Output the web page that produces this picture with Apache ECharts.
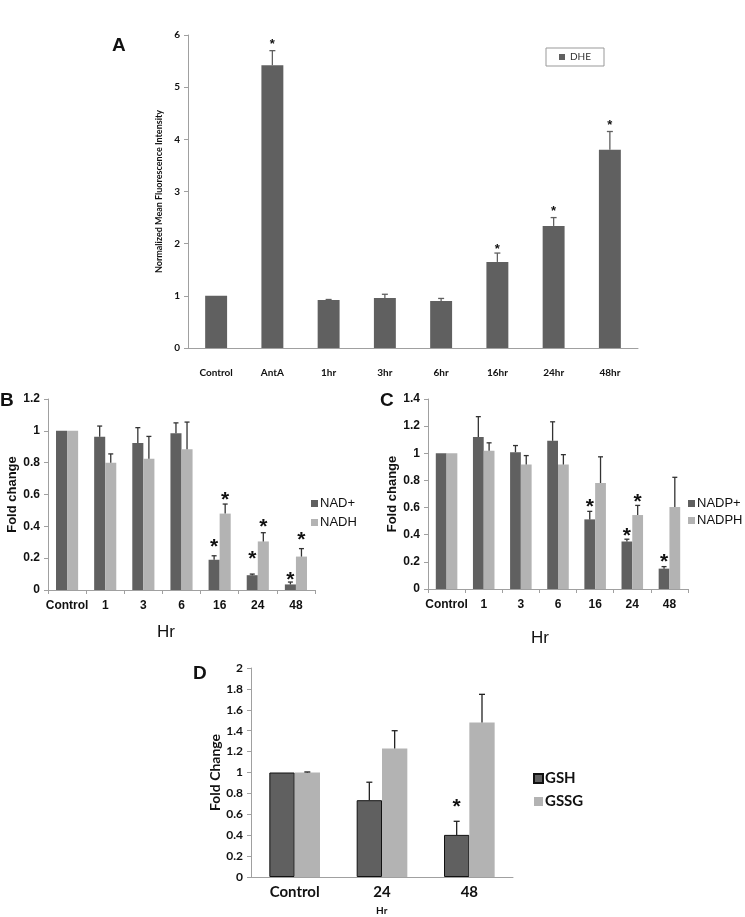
<!DOCTYPE html>
<html>
<head>
<meta charset="utf-8">
<script src="https://cdn.jsdelivr.net/npm/echarts@6/dist/echarts.min.js"></script>
<style>
  html, body { margin: 0; padding: 0; background: #fff; }
  #chart { width: 745px; height: 917px; }
</style>
</head>
<body>
<div id="chart"></div>
<script>
// panel A - DHE
const catsA = ["Control", "AntA", "1hr", "3hr", "6hr", "16hr", "24hr", "48hr"];
const dhe = [1.0, 5.42, 0.92, 0.96, 0.9, 1.65, 2.34, 3.8];
const dheErr = [null, 5.7, 0.93, 1.03, 0.95, 1.82, 2.5, 4.15];
const dheStar = [null, 5.88, null, null, null, 1.95, 2.69, 4.34];

// panel B - NAD+ / NADH
const catsB = ["Control", "1", "3", "6", "16", "24", "48"];
const nad = [1.0, 0.963, 0.923, 0.985, 0.19, 0.093, 0.035];
const nadErr = [null, 1.03, 1.02, 1.05, 0.215, 0.1, 0.05];
const nadStar = [null, null, null, null, 0.306, 0.232, 0.1];
const nadh = [1.0, 0.80, 0.825, 0.885, 0.48, 0.305, 0.21];
const nadhErr = [null, 0.855, 0.965, 1.055, 0.54, 0.36, 0.26];
const nadhStar = [null, null, null, null, 0.6, 0.43, 0.35];

// panel C - NADP+ / NADPH
const catsC = ["Control", "1", "3", "6", "16", "24", "48"];
const nadp = [1.0, 1.12, 1.008, 1.092, 0.513, 0.35, 0.15];
const nadpErr = [null, 1.27, 1.057, 1.232, 0.572, 0.367, 0.165];
const nadpStar = [null, null, null, null, 0.648, 0.436, 0.239];
const nadph = [1.0, 1.018, 0.917, 0.917, 0.781, 0.545, 0.604];
const nadphErr = [null, 1.077, 0.983, 0.99, 0.974, 0.616, 0.823];
const nadphStar = [null, null, null, null, null, 0.685, null];

// panel D - GSH / GSSG
const catsD = ["Control", "24", "48"];
const gsh = [1.0, 0.735, 0.403];
const gshErr = [null, 0.907, 0.533];
const gshStar = [null, null, 0.722];
const gssg = [1.0, 1.23, 1.479];
const gssgErr = [1.005, 1.40, 1.748];
const gssgStar = [null, null, null];

const dark = "#606060";
const light = "#b3b3b3";
const arial = "Liberation Sans";
const calibri = "Lato";

// custom series: error bar above a bar (slot within category)
function errSeries(axis, vals, tops, slot, nSlots, gap, color, capW) {
  return {
    type: "custom",
    xAxisIndex: axis, yAxisIndex: axis,
    z: 5,
    silent: true,
    data: vals.map((v, i) => [i, v, tops[i] == null ? v : tops[i], tops[i] == null ? 0 : 1]),
    renderItem: function (params, api) {
      if (!api.value(3)) return null;
      const band = api.size([1, 0])[0];
      const bw = band * (1 - gap) / nSlots;
      const base = api.coord([api.value(0), api.value(1)]);
      const top = api.coord([api.value(0), api.value(2)]);
      const x = base[0] - band * (1 - gap) / 2 + bw * (slot + 0.5);
      const st = { stroke: color, lineWidth: 1.3 };
      return {
        type: "group",
        children: [
          { type: "line", shape: { x1: x, y1: base[1], x2: x, y2: top[1] }, style: st },
          { type: "line", shape: { x1: x - capW / 2, y1: top[1], x2: x + capW / 2, y2: top[1] }, style: st }
        ]
      };
    }
  };
}

// custom series: asterisk centred at given value
function starSeries(axis, stars, slot, nSlots, gap, size) {
  return {
    type: "custom",
    xAxisIndex: axis, yAxisIndex: axis,
    z: 6,
    silent: true,
    data: stars.map((s, i) => [i, s == null ? 0 : s, s == null ? 0 : 1]),
    renderItem: function (params, api) {
      if (!api.value(2)) return null;
      const band = api.size([1, 0])[0];
      const bw = band * (1 - gap) / nSlots;
      const p = api.coord([api.value(0), api.value(1)]);
      const x = p[0] - band * (1 - gap) / 2 + bw * (slot + 0.5);
      return {
        type: "text",
        style: {
          x: x, y: p[1] + size * 0.28,
          text: "*",
          fill: "#111",
          font: "bold " + size + "px " + arial,
          textAlign: "center",
          textVerticalAlign: "middle"
        }
      };
    }
  };
}

function barSeries(name, axis, vals, color, gap, border) {
  return {
    name: name,
    type: "bar",
    xAxisIndex: axis, yAxisIndex: axis,
    data: vals,
    barGap: "0%",
    barCategoryGap: (gap * 100) + "%",
    itemStyle: { color: color, borderColor: border || color, borderWidth: border ? 1 : 0 }
  };
}

const axisGray = { lineStyle: { color: "#a0a0a0", width: 1 } };

function xAx(grid, cats, font, size, margin, ticks) {
  return {
    type: "category", gridIndex: grid, data: cats,
    axisLine: axisGray,
    axisTick: { show: ticks, length: 4, lineStyle: { color: "#a0a0a0" } },
    axisLabel: { interval: 0, fontFamily: font, fontWeight: "bold", fontSize: size, color: "#111", margin: margin },
    splitLine: { show: false }
  };
}

function yAx(grid, max, interval, font, size, name, nameSize, nameGap) {
  return {
    type: "value", gridIndex: grid, min: 0, max: max, interval: interval,
    axisLine: { show: true, lineStyle: { color: "#a0a0a0" } },
    axisTick: { show: true, length: 4, lineStyle: { color: "#a0a0a0" } },
    splitLine: { show: false },
    axisLabel: { fontFamily: font, fontWeight: "bold", fontSize: size, color: "#111", margin: 8 },
    name: name, nameLocation: "middle", nameGap: nameGap,
    nameTextStyle: { fontFamily: font, fontWeight: "bold", fontSize: nameSize, color: "#111" }
  };
}

const gA = 0.61, gB = 0.42, gC = 0.42, gD = 0.42;

const chart = echarts.init(document.getElementById("chart"));
chart.setOption({
  animation: false,
  backgroundColor: "#fff",
  grid: [
    { left: 188, top: 35, width: 450, height: 313 },
    { left: 48, top: 399, width: 267, height: 191 },
    { left: 428, top: 399, width: 260, height: 190 },
    { left: 251, top: 668, width: 262, height: 209 }
  ],
  xAxis: [
    xAx(0, catsA, calibri, 10, 20, false),
    xAx(1, catsB, arial, 12, 10, true),
    xAx(2, catsC, arial, 12, 10, true),
    xAx(3, catsD, calibri, 15, 8, false)
  ],
  yAxis: [
    yAx(0, 6, 1, calibri, 10, "Normalized Mean Fluorescence Intensity", 9, 24),
    yAx(1, 1.2, 0.2, arial, 12, "Fold change", 13, 28),
    yAx(2, 1.4, 0.2, arial, 12, "Fold change", 13, 28),
    yAx(3, 2, 0.2, calibri, 12, "Fold Change", 14, 26)
  ],
  legend: [
    { data: ["DHE"], left: 546, top: 48, width: 58, padding: [4, 13], borderColor: "#999", borderWidth: 1,
      itemWidth: 6, itemHeight: 6, icon: "rect", itemGap: 3,
      textStyle: { fontFamily: calibri, fontSize: 10, color: "#333" } },
    { data: ["NAD+", "NADH"], orient: "vertical", left: 306, top: 492, itemWidth: 7, itemHeight: 7,
      icon: "rect", itemGap: 6, textStyle: { fontFamily: arial, fontSize: 13, color: "#111", padding: [0, 0, 0, -3] } },
    { data: ["NADP+", "NADPH"], orient: "vertical", left: 683, top: 492, itemWidth: 7, itemHeight: 7,
      icon: "rect", itemGap: 4, textStyle: { fontFamily: arial, fontSize: 13, color: "#111", padding: [0, 0, 0, -3] } },
    { data: ["GSH", "GSSG"], orient: "vertical", left: 528, top: 766, itemWidth: 9, itemHeight: 9,
      icon: "rect", itemGap: 8, textStyle: { fontFamily: calibri, fontSize: 15, fontWeight: "bold", color: "#111", padding: [0, 0, 0, -3] } }
  ],
  graphic: [
    { type: "text", left: 112, top: 36, style: { text: "A", font: "bold 19px " + arial, fill: "#111" } },
    { type: "text", left: 0, top: 391, style: { text: "B", font: "bold 19px " + arial, fill: "#111" } },
    { type: "text", left: 380, top: 391, style: { text: "C", font: "bold 19px " + arial, fill: "#111" } },
    { type: "text", left: 193, top: 664, style: { text: "D", font: "bold 19px " + arial, fill: "#111" } },
    { type: "text", left: 157, top: 624, style: { text: "Hr", font: "17px " + arial, fill: "#111" } },
    { type: "text", left: 531, top: 630, style: { text: "Hr", font: "17px " + arial, fill: "#111" } },
    { type: "text", left: 376, top: 906, style: { text: "Hr", font: "bold 10px " + calibri, fill: "#111" } }
  ],
  series: [
    barSeries("DHE", 0, dhe, dark, gA),
    errSeries(0, dhe, dheErr, 0, 1, gA, dark, 6),
    starSeries(0, dheStar, 0, 1, gA, 13),

    barSeries("NAD+", 1, nad, dark, gB),
    barSeries("NADH", 1, nadh, light, gB),
    errSeries(1, nad, nadErr, 0, 2, gB, "#333", 5),
    errSeries(1, nadh, nadhErr, 1, 2, gB, "#333", 5),
    starSeries(1, nadStar, 0, 2, gB, 21),
    starSeries(1, nadhStar, 1, 2, gB, 21),

    barSeries("NADP+", 2, nadp, dark, gC),
    barSeries("NADPH", 2, nadph, light, gC),
    errSeries(2, nadp, nadpErr, 0, 2, gC, "#333", 5),
    errSeries(2, nadph, nadphErr, 1, 2, gC, "#333", 5),
    starSeries(2, nadpStar, 0, 2, gC, 21),
    starSeries(2, nadphStar, 1, 2, gC, 21),

    barSeries("GSH", 3, gsh, dark, gD, "#111"),
    barSeries("GSSG", 3, gssg, light, gD),
    errSeries(3, gsh, gshErr, 0, 2, gD, "#222", 6),
    errSeries(3, gssg, gssgErr, 1, 2, gD, "#222", 6),
    starSeries(3, gshStar, 0, 2, gD, 21),
    starSeries(3, gssgStar, 1, 2, gD, 21)
  ]
});
</script>
</body>
</html>
